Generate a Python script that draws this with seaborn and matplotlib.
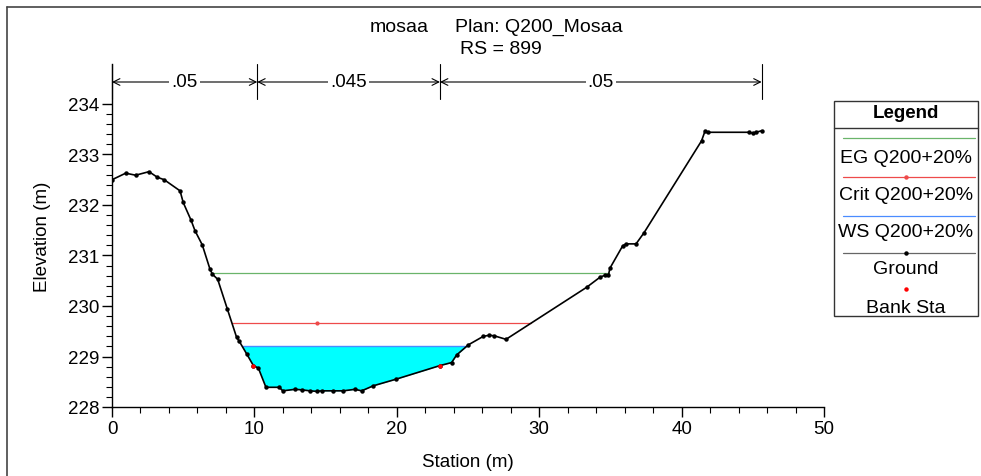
import numpy as np
import pandas as pd
import matplotlib
matplotlib.use("Agg")
import matplotlib.pyplot as plt
import seaborn as sns
from matplotlib.lines import Line2D
from matplotlib.patches import Rectangle
from matplotlib import font_manager

# ---------------- data ----------------
station = [0.0, 0.96, 1.66, 2.60, 3.18, 3.67, 4.78, 5.00, 5.55, 5.83, 6.34, 6.88,
           7.05, 7.42, 8.10, 8.75, 8.94, 9.46, 9.93, 10.28, 10.81, 11.75, 11.99,
           12.85, 13.32, 13.90, 14.37, 14.72, 15.54, 16.24, 17.06, 17.53, 18.35,
           19.94, 23.03, 23.85, 24.20, 25.02, 26.08, 26.49, 26.84, 27.67, 33.33,
           34.27, 34.62, 34.86, 34.97, 35.86, 36.10, 36.80, 37.36, 41.40, 41.64,
           41.87, 44.75, 44.99, 45.22, 45.62]
ground = [232.50, 232.63, 232.59, 232.66, 232.55, 232.50, 232.28, 232.05, 231.70,
          231.49, 231.21, 230.73, 230.63, 230.53, 229.94, 229.38, 229.30, 229.05,
          228.82, 228.77, 228.39, 228.39, 228.32, 228.35, 228.34, 228.32, 228.31,
          228.32, 228.32, 228.32, 228.35, 228.32, 228.42, 228.55, 228.82, 228.88,
          229.03, 229.23, 229.40, 229.42, 229.41, 229.34, 230.37, 230.57, 230.61,
          230.61, 230.75, 231.19, 231.23, 231.23, 231.45, 233.27, 233.46, 233.44,
          233.44, 233.42, 233.44, 233.47]
eg_elev = 230.66
crit_elev = 229.66
ws_elev = 229.21
bank_sta = [9.93, 23.03]
n_breaks = [0.0, 10.2, 23.03, 45.62]
n_values = [".05", ".045", ".05"]
title_left = "mosaa"
title_plan = "Plan: Q200_Mosaa"
title_rs = "RS = 899"
legend_labels = ["EG Q200+20%", "Crit Q200+20%", "WS Q200+20%", "Ground", "Bank Sta"]

# ---------------- style ----------------
sns.set_theme(style="white")
avail = {f.name for f in font_manager.fontManager.ttflist}
base_font = "Liberation Sans" if "Liberation Sans" in avail else "DejaVu Sans"
narrow_font = "Liberation Sans Narrow" if "Liberation Sans Narrow" in avail else base_font
plt.rcParams["font.family"] = [base_font, "DejaVu Sans"]

W, H = 981, 477
fig = plt.figure(figsize=(W / 100, H / 100), dpi=100)
fig.patch.set_facecolor("white")

def fx(px):
    return px / W

def fy(py):
    return 1 - py / H

ax = fig.add_axes([fx(112), fy(408), fx(824) - fx(112), fy(65) - fy(408)])
ax.set_facecolor("white")

df = pd.DataFrame({"Station": station, "Elevation": ground})
st = np.asarray(station)
gr = np.asarray(ground)


def crossings(level):
    d = gr - level
    idx = np.where(np.sign(d[:-1]) != np.sign(d[1:]))[0]
    xs = [st[i] + (level - gr[i]) * (st[i + 1] - st[i]) / (gr[i + 1] - gr[i]) for i in idx]
    return xs[0], xs[-1]

# water fill
wl, wr = crossings(ws_elev)
ax.fill_between(st, gr, ws_elev, where=gr <= ws_elev, interpolate=True,
                color="#00FFFF", linewidth=0, zorder=1)

# EG, Crit, WS lines
el, er = crossings(eg_elev)
ax.plot([el, er], [eg_elev, eg_elev], color="#6ab46a", lw=0.9, zorder=2)
cl, cr = crossings(crit_elev)
ax.plot([cl, cr], [crit_elev, crit_elev], color="#ee4a4a", lw=0.9, zorder=2)
ax.plot([st[np.argmin(gr)]], [crit_elev], marker="o", ms=2, color="#ee4a4a", zorder=2)
ax.plot([wl, wr], [ws_elev, ws_elev], color="#4a8cff", lw=1.0, zorder=2)

# ground
sns.lineplot(data=df, x="Station", y="Elevation", ax=ax, color="black", lw=1.2,
             marker="o", markersize=3.2, markeredgewidth=0, zorder=4)

# bank stations
bank_el = np.interp(bank_sta, st, gr)
ax.plot(bank_sta, bank_el, "o", color="red", ms=2.2, zorder=5)

ax.set_xlim(0, 50)
ax.set_ylim(228, 228 + (408 - 65) / 50.5)
ax.set_xticks(np.arange(0, 51, 10))
ax.set_xticks(np.arange(0, 51, 2), minor=True)
ax.set_yticks(np.arange(228, 234.5, 1))
ax.set_yticks(np.arange(228, 234.05, 0.2), minor=True)
ax.tick_params(axis="both", which="major", direction="out", length=7, width=1,
               color="black", labelsize=13.5, labelcolor="black", pad=2)
ax.tick_params(axis="both", which="minor", direction="out", length=4, width=0.8,
               color="black")
ax.tick_params(axis="x", which="both", bottom=True)
ax.tick_params(axis="y", which="both", left=True)
for s in ["top", "right"]:
    ax.spines[s].set_visible(False)
for s in ["left", "bottom"]:
    ax.spines[s].set_color("black")
    ax.spines[s].set_linewidth(1.0)
ax.grid(False)
ax.set_xlabel("Station (m)", fontsize=13.5, color="black", labelpad=12)
ax.set_ylabel("Elevation (m)", fontsize=13.5, color="black", labelpad=12)

# n-value annotations
y_arrow = 228 + (408 - 83) / 50.5
y_bar_lo = 228 + (408 - 100) / 50.5
y_bar_hi = 228 + (408 - 65) / 50.5
for xb in n_breaks:
    ax.plot([xb, xb], [y_bar_lo, y_bar_hi], color="black", lw=0.8, clip_on=False, zorder=6)
for i, nv in enumerate(n_values):
    x0, x1 = n_breaks[i], n_breaks[i + 1]
    ax.annotate("", xy=(x0, y_arrow), xytext=(x1, y_arrow),
                arrowprops=dict(arrowstyle="<->", lw=0.8, color="black",
                                shrinkA=0, shrinkB=0, mutation_scale=12),
                annotation_clip=False, zorder=6)
    ax.text((x0 + x1) / 2, y_arrow, nv, ha="center", va="center", fontsize=13.5,
            color="black", zorder=7, clip_on=False,
            bbox=dict(facecolor="white", edgecolor="none", pad=1.5))

# title
fig.text(fx(399), fy(27), title_left, ha="center", va="center", fontsize=14,
         family=[narrow_font, "DejaVu Sans"], color="black")
fig.text(fx(539), fy(27), title_plan, ha="center", va="center", fontsize=14,
         family=[narrow_font, "DejaVu Sans"], color="black")
fig.text(fx(501), fy(50), title_rs, ha="center", va="center", fontsize=14,
         family=[narrow_font, "DejaVu Sans"], color="black")

# window border
fig.add_artist(Line2D([fx(7), 1], [fy(8), fy(8)], color="#444444", lw=1.2))
fig.add_artist(Line2D([fx(7), fx(7)], [fy(8), 0], color="#444444", lw=1.2))

# legend box
fig.add_artist(Rectangle((fx(834), fy(317)), fx(978) - fx(834), fy(102) - fy(317),
                         facecolor="white", edgecolor="#333333", lw=1.0))
fig.add_artist(Line2D([fx(834), fx(978)], [fy(129), fy(129)], color="#333333", lw=1.0))
cx = fx(906)
fig.text(cx, fy(114), "Legend", ha="center", va="center", fontsize=13.5,
         fontweight="bold", color="black")
lx0, lx1 = fx(843), fx(975)
entries = [("#6ab46a", None, 139), ("#ee4a4a", "#ee4a4a", 178),
           ("#4a8cff", None, 216.5), ("#666666", "black", 254)]
for col, dot, yy in entries:
    fig.add_artist(Line2D([lx0, lx1], [fy(yy), fy(yy)], color=col, lw=0.9))
    if dot:
        fig.add_artist(Line2D([cx], [fy(yy)], marker="o", ms=2.2, color=dot, lw=0))
fig.add_artist(Line2D([cx], [fy(290)], marker="o", ms=2.2, color="red", lw=0))
for lab, yy in zip(legend_labels, [158.5, 195, 233, 270, 308.5]):
    fig.text(cx, fy(yy), lab, ha="center", va="center", fontsize=14, color="black")

fig.savefig("out.png", dpi=100, facecolor="white")
